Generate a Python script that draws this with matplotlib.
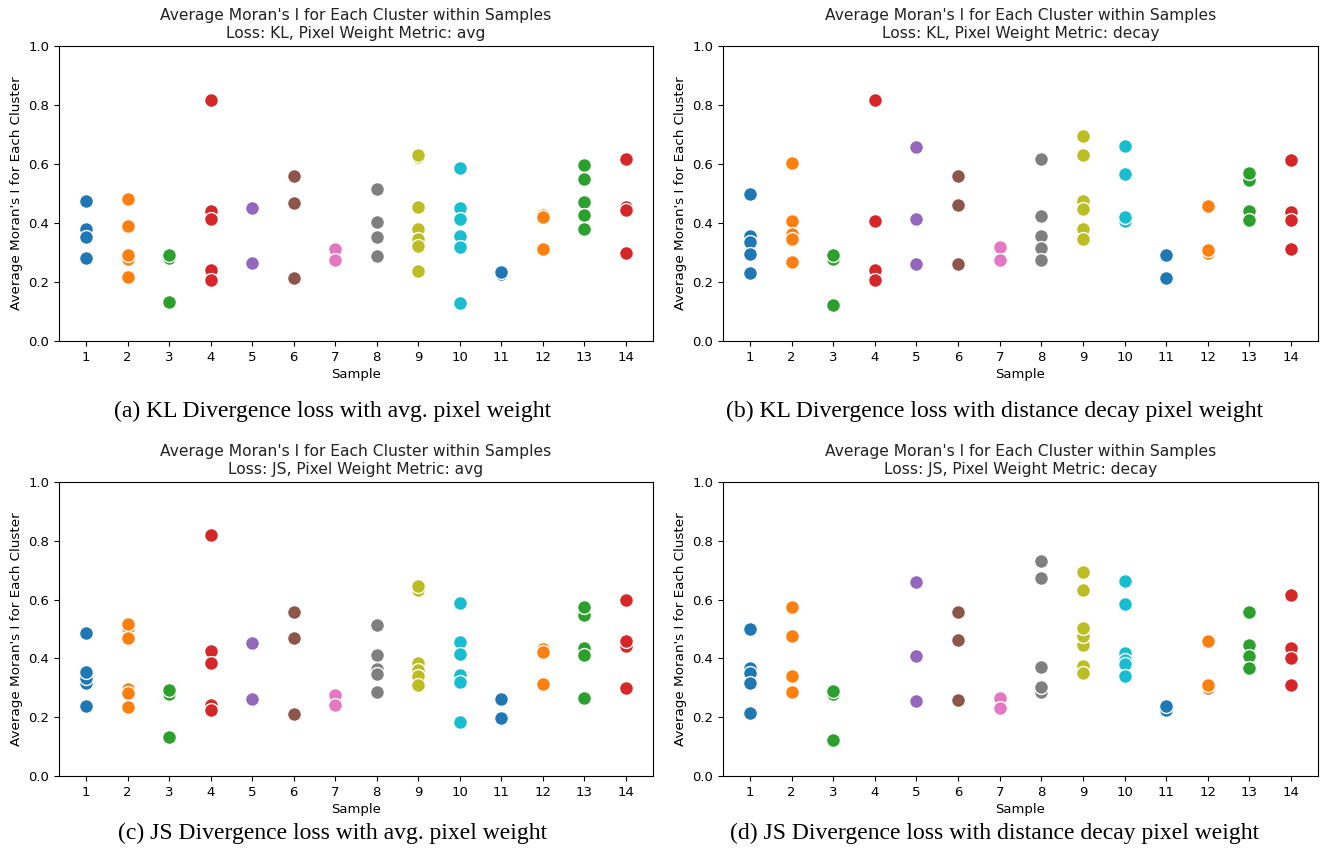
import matplotlib
matplotlib.use("Agg")
import matplotlib.pyplot as plt

samples = list(range(1, 15))

# values per sample, listed in drawing order (later values are drawn on top)
kl_avg = [
    [0.473, 0.380, 0.353, 0.280],
    [0.480, 0.389, 0.277, 0.290, 0.218],
    [0.280, 0.293, 0.133],
    [0.817, 0.440, 0.415, 0.242, 0.206],
    [0.451, 0.264],
    [0.558, 0.468, 0.212],
    [0.313, 0.276],
    [0.516, 0.402, 0.353, 0.289],
    [0.624, 0.632, 0.454, 0.378, 0.347, 0.321, 0.237],
    [0.588, 0.451, 0.415, 0.357, 0.318, 0.130],
    [0.228, 0.234],
    [0.428, 0.421, 0.312],
    [0.598, 0.548, 0.470, 0.428, 0.380],
    [0.618, 0.454, 0.444, 0.299],
]

kl_decay = [
    [0.497, 0.356, 0.337, 0.295, 0.230],
    [0.604, 0.408, 0.362, 0.346, 0.267],
    [0.278, 0.290, 0.121],
    [0.817, 0.408, 0.242, 0.206],
    [0.658, 0.413, 0.260],
    [0.558, 0.461, 0.260],
    [0.319, 0.274],
    [0.617, 0.423, 0.357, 0.315, 0.274],
    [0.694, 0.632, 0.476, 0.448, 0.380, 0.347],
    [0.662, 0.565, 0.406, 0.420],
    [0.292, 0.212],
    [0.458, 0.299, 0.309],
    [0.547, 0.569, 0.442, 0.409],
    [0.613, 0.436, 0.411, 0.311],
]

js_avg = [
    [0.237, 0.315, 0.334, 0.354, 0.488],
    [0.503, 0.517, 0.470, 0.296, 0.282, 0.234],
    [0.280, 0.293, 0.133],
    [0.819, 0.424, 0.386, 0.243, 0.226],
    [0.451, 0.263],
    [0.559, 0.469, 0.212],
    [0.277, 0.241],
    [0.513, 0.412, 0.364, 0.348, 0.285],
    [0.631, 0.647, 0.386, 0.362, 0.341, 0.309],
    [0.589, 0.455, 0.416, 0.345, 0.319, 0.183],
    [0.263, 0.198],
    [0.431, 0.422, 0.313],
    [0.549, 0.575, 0.436, 0.413, 0.266],
    [0.598, 0.441, 0.458, 0.299],
]

js_decay = [
    [0.501, 0.366, 0.352, 0.315, 0.215],
    [0.576, 0.477, 0.339, 0.285],
    [0.280, 0.290, 0.121],
    [],
    [0.660, 0.407, 0.256],
    [0.559, 0.462, 0.259],
    [0.264, 0.232],
    [0.732, 0.672, 0.371, 0.285, 0.302],
    [0.695, 0.633, 0.447, 0.476, 0.504, 0.375, 0.351],
    [0.664, 0.585, 0.418, 0.396, 0.381, 0.341],
    [0.226, 0.237],
    [0.459, 0.298, 0.309],
    [0.557, 0.445, 0.409, 0.368],
    [0.615, 0.437, 0.400, 0.310],
]

titles = [
    "Average Moran's I for Each Cluster within Samples\nLoss: KL, Pixel Weight Metric: avg",
    "Average Moran's I for Each Cluster within Samples\nLoss: KL, Pixel Weight Metric: decay",
    "Average Moran's I for Each Cluster within Samples\nLoss: JS, Pixel Weight Metric: avg",
    "Average Moran's I for Each Cluster within Samples\nLoss: JS, Pixel Weight Metric: decay",
]
captions = [
    "(a) KL Divergence loss with avg. pixel weight",
    "(b) KL Divergence loss with distance decay pixel weight",
    "(c) JS Divergence loss with avg. pixel weight",
    "(d) JS Divergence loss with distance decay pixel weight",
]
panels = [kl_avg, kl_decay, js_avg, js_decay]

W, H = 1320, 849
fig = plt.figure(figsize=(W / 100, H / 100), dpi=100)
palette = plt.get_cmap("tab10").colors

# pixel boxes: left, top, right, bottom
boxes = [(59, 46, 653, 341), (723, 46, 1318, 341), (59, 482, 653, 776), (723, 482, 1318, 776)]
caption_pos = [(333, 411), (995, 411), (333, 833), (995, 833)]

for i, (data, box) in enumerate(zip(panels, boxes)):
    l, t, r, b = box
    ax = fig.add_axes([l / W, 1 - b / H, (r - l) / W, (b - t) / H])
    for s, vals in zip(samples, data):
        if not vals:
            continue
        ax.scatter([s] * len(vals), vals, s=100, color=palette[(s - 1) % 10],
                   edgecolor="white", linewidth=1, zorder=3)
    ax.set_xlim(0.35, 14.65)
    ax.set_ylim(0, 1.0)
    ax.set_xticks(samples)
    ax.set_xticklabels([str(s) for s in samples])
    ax.set_yticks([0.0, 0.2, 0.4, 0.6, 0.8, 1.0])
    ax.tick_params(labelsize=9.5)
    ax.set_xlabel("Sample", fontsize=9.5, labelpad=3)
    ax.set_ylabel("Average Moran's I for Each Cluster", fontsize=9.7)
    ax.set_title(titles[i], fontsize=11.2, color="#222222")
    cx, cy = caption_pos[i]
    fig.text(cx / W, 1 - cy / H, captions[i],
             ha="center", va="center", fontsize=17, family="Liberation Serif")

fig.savefig("out.png", dpi=100)
